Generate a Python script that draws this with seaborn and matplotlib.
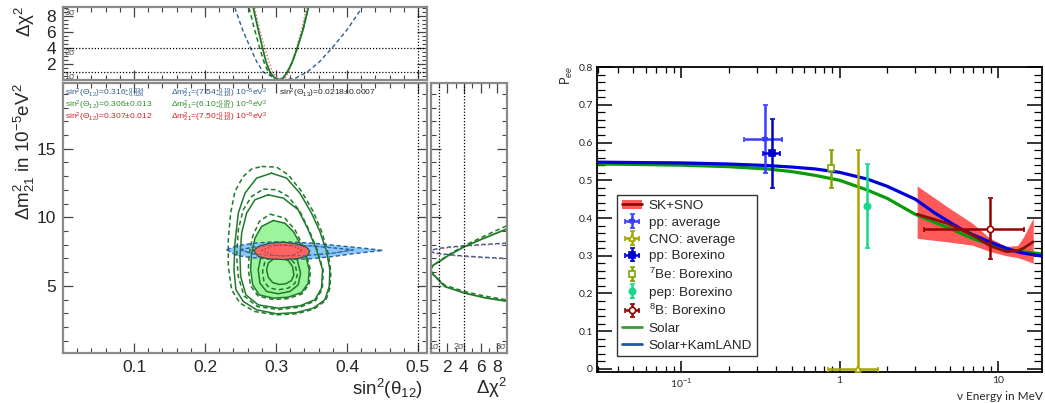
import numpy as np
import pandas as pd
import matplotlib
matplotlib.use("Agg")
import matplotlib.pyplot as plt
import seaborn as sns
from matplotlib.ticker import MultipleLocator, FixedLocator, FixedFormatter, LogLocator, NullFormatter
from matplotlib.patches import Patch
from matplotlib.lines import Line2D

# -----------------------------------
# LEFT FIGURE DATA
# -----------------------------------
sx_ticks = [0.1, 0.2, 0.3, 0.4, 0.5]
sx_tick_labels = ["0.1", "0.2", "0.3", "0.4", "0.5"]
dm_ticks = [5, 10, 15]
dm_tick_labels = ["5", "10", "15"]
chi_ticks = [2, 4, 6, 8]
chi_tick_labels = ["2", "4", "6", "8"]
sigma_levels = [1, 4, 9]
sigma_names = ["1σ", "2σ", "3σ"]

# green (solar) contours
g_out_sx = [0.2938, 0.3149, 0.3337, 0.3501, 0.3618, 0.3712, 0.3759, 0.3750, 0.3688, 0.3524,
            0.3290, 0.3008, 0.2727, 0.2539, 0.2436, 0.2408, 0.2422, 0.2469, 0.2563, 0.2727]
g_out_dm = [13.22, 12.86, 11.76, 10.30, 8.97, 7.51, 6.17, 4.95, 3.98, 3.37,
            3.05, 2.96, 3.25, 3.86, 4.71, 6.17, 8.11, 10.30, 11.76, 12.86]
g_outd_sx = [0.2797, 0.3008, 0.3172, 0.3360, 0.3524, 0.3642, 0.3735, 0.3773, 0.3759, 0.3702, 0.3534,
             0.3290, 0.3008, 0.2704, 0.2493, 0.2375, 0.2328, 0.2328, 0.2361, 0.2422, 0.2539, 0.2657]
g_outd_dm = [13.71, 13.66, 13.10, 11.89, 10.43, 8.97, 7.38, 6.05, 4.83, 3.93, 3.30,
             2.96, 2.88, 3.12, 3.74, 4.71, 6.41, 8.36, 10.30, 11.89, 12.98, 13.52]
g_mid_sx = [0.2891, 0.3102, 0.3313, 0.3454, 0.3571, 0.3656, 0.3641, 0.3548, 0.3337,
            0.3032, 0.2750, 0.2577, 0.2502, 0.2493, 0.2516, 0.2586, 0.2704]
g_mid_dm = [11.64, 11.40, 10.55, 9.09, 7.63, 6.17, 4.83, 3.98, 3.54,
            3.37, 3.61, 4.34, 5.68, 7.14, 8.84, 10.30, 11.28]
g_midd_sx = [0.2821, 0.3008, 0.3172, 0.3337, 0.3468, 0.3585, 0.3665, 0.3652, 0.3557,
             0.3337, 0.3032, 0.2736, 0.2549, 0.2469, 0.2446, 0.2469, 0.2539, 0.2657]
g_midd_dm = [12.06, 12.01, 11.52, 10.43, 9.04, 7.58, 6.12, 4.76, 3.91,
             3.44, 3.27, 3.49, 4.27, 5.68, 7.14, 9.09, 10.55, 11.52]
g_fill_sx = [0.2961, 0.3125, 0.3243, 0.3337, 0.3421, 0.3468, 0.3454, 0.3360,
             0.3172, 0.2961, 0.2764, 0.2671, 0.2642, 0.2656, 0.2704, 0.2797]
g_fill_dm = [9.77, 9.57, 8.97, 8.11, 7.14, 6.17, 5.19, 4.51,
             4.17, 4.10, 4.34, 5.07, 6.17, 7.38, 8.48, 9.33]
g_filld_sx = [0.2915, 0.3125, 0.3267, 0.3360, 0.3440, 0.3487, 0.3468, 0.3370,
              0.3172, 0.2961, 0.2750, 0.2642, 0.2610, 0.2624, 0.2671, 0.2765]
g_filld_dm = [10.23, 9.94, 9.09, 8.11, 7.09, 6.12, 5.14, 4.42,
              4.07, 4.00, 4.25, 5.00, 6.17, 7.38, 8.60, 9.70]
g_in2_sx = [0.3032, 0.3196, 0.3300, 0.3346, 0.3313, 0.3196, 0.3032, 0.2868, 0.2774, 0.2750, 0.2783, 0.2891]
g_in2_dm = [7.68, 7.51, 6.90, 5.92, 5.07, 4.59, 4.42, 4.59, 5.19, 6.17, 7.02, 7.55]
g_in2d_sx = [0.3032, 0.3172, 0.3267, 0.3300, 0.3267, 0.3172, 0.3032, 0.2905, 0.2830, 0.2811, 0.2844, 0.2915]
g_in2d_dm = [7.34, 7.14, 6.61, 5.80, 5.19, 4.83, 4.71, 4.85, 5.32, 6.05, 6.78, 7.19]
g_in1_sx = [0.3056, 0.3172, 0.3233, 0.3252, 0.3219, 0.3139, 0.3046, 0.2952, 0.2891, 0.2868, 0.2891, 0.2961]
g_in1_dm = [7.02, 6.85, 6.41, 5.80, 5.39, 5.15, 5.10, 5.24, 5.63, 6.17, 6.66, 6.95]

# blue (KamLAND) contour
b_fill_sx = [0.2305, 0.2446, 0.2680, 0.2961, 0.3243, 0.3524, 0.3806, 0.4087, 0.4322,
             0.4509, 0.4322, 0.4087, 0.3806, 0.3524, 0.3243, 0.2961, 0.2680, 0.2446]
b_fill_dm = [7.63, 7.92, 8.11, 8.21, 8.19, 8.11, 7.97, 7.82, 7.70,
             7.58, 7.48, 7.34, 7.14, 6.99, 6.92, 6.95, 7.04, 7.21]
b_in_sx = [0.2493, 0.2680, 0.2961, 0.3243, 0.3524, 0.3806, 0.4087, 0.3806, 0.3524, 0.3243, 0.2961, 0.2680]
b_in_dm = [7.63, 7.82, 7.97, 7.97, 7.90, 7.77, 7.63, 7.38, 7.26, 7.19, 7.21, 7.33]

# red (combined) contour
r_fill_sx = [0.2680, 0.2775, 0.2915, 0.3102, 0.3290, 0.3430, 0.3477, 0.3440, 0.3313, 0.3102, 0.2891, 0.2750]
r_fill_dm = [7.58, 7.92, 8.11, 8.19, 8.07, 7.82, 7.53, 7.19, 6.99, 6.92, 6.97, 7.14]
r_in_sx = [0.280, 0.295, 0.310, 0.325, 0.337, 0.325, 0.310, 0.295]
r_in_dm = [7.58, 7.90, 7.98, 7.90, 7.58, 7.25, 7.15, 7.25]

# top panel: delta chi2 profiles vs sin2(theta12)
prof_chi = [9, 6.25, 4, 2.25, 1, 0.25, 0, 0.25, 1, 2.25, 4, 6.25, 9]
prof_blue_sx = [0.242, 0.253, 0.264, 0.273, 0.282, 0.298, 0.313, 0.328, 0.344, 0.361, 0.379, 0.400, 0.421]
prof_green_sx = [0.268, 0.275, 0.281, 0.286, 0.2915, 0.298, 0.304, 0.310, 0.316, 0.323, 0.330, 0.338, 0.3455]
prof_greend_sx = [0.262, 0.270, 0.277, 0.283, 0.289, 0.297, 0.304, 0.310, 0.316, 0.323, 0.330, 0.338, 0.3455]
prof_red_sx = [0.270, 0.277, 0.2845, 0.290, 0.295, 0.301, 0.307, 0.313, 0.318, 0.323, 0.329, 0.336, 0.343]

# side panel: delta chi2 profiles vs dm21
side_chi = [9.1, 6.5, 4.1, 2.1, 1.0, 0.3, 0.0, 0.3, 1.0, 1.7, 4.1, 6.5, 9.1]
side_green_dm = [9.14, 8.50, 7.87, 7.20, 6.75, 6.50, 6.17, 5.85, 5.40, 4.95, 4.47, 4.13, 3.88]
side_greend_dm = [9.38, 8.65, 7.95, 7.25, 6.78, 6.50, 6.17, 5.82, 5.45, 5.05, 4.58, 4.25, 3.98]
side_kl_chi = [9.1, 6.25, 4, 2.25, 1, 0.25, 0, 0.25, 1, 2.25, 4, 6.25, 9.1]
side_blue_dm = [8.12, 8.02, 7.92, 7.83, 7.73, 7.635, 7.54, 7.45, 7.36, 7.27, 7.18, 7.09, 7.00]
side_red_dm = [8.07, 7.975, 7.88, 7.785, 7.69, 7.595, 7.50, 7.41, 7.32, 7.23, 7.14, 7.05, 6.96]

# -----------------------------------
# RIGHT FIGURE DATA (survival probability)
# -----------------------------------
curve_e = [0.03, 0.05, 0.1, 0.2, 0.35, 0.5, 0.7, 1.0, 1.5, 2.0, 3.0, 4.0, 5.0, 6.0, 7.0, 8.5, 10.0, 12.0, 14.0, 19.0]
solar_pee = [0.543, 0.542, 0.540, 0.536, 0.530, 0.523, 0.513, 0.500, 0.474, 0.452, 0.410, 0.388,
             0.372, 0.357, 0.345, 0.333, 0.324, 0.315, 0.311, 0.305]
kamland_pee = [0.548, 0.547, 0.546, 0.543, 0.539, 0.535, 0.530, 0.521, 0.503, 0.484, 0.450, 0.413,
               0.388, 0.368, 0.355, 0.340, 0.328, 0.316, 0.308, 0.299]
band_e = [3.09, 4.78, 6.9, 8.94, 11.3, 13.3, 14.5, 16.7]
band_hi = [0.485, 0.430, 0.386, 0.346, 0.325, 0.327, 0.350, 0.400]
band_mid = [0.410, 0.386, 0.355, 0.326, 0.311, 0.313, 0.320, 0.337]
band_lo = [0.346, 0.337, 0.328, 0.311, 0.300, 0.295, 0.290, 0.280]

# points: energy, pee, energy range, pee range
pp_avg = dict(e=0.34, p=0.61, elo=0.248, ehi=0.431, plo=0.52, phi=0.70)
cno_avg = dict(e=1.30, p=0.0, elo=0.84, ehi=1.76, plo=0.0, phi=0.58)
pp_bx = dict(e=0.376, p=0.572, elo=0.327, ehi=0.424, plo=0.48, phi=0.662)
be7_bx = dict(e=0.88, p=0.532, plo=0.48, phi=0.58)
pep_bx = dict(e=1.50, p=0.432, plo=0.32, phi=0.543)
b8_bx = dict(e=8.9, p=0.371, elo=3.4, ehi=14.7, plo=0.291, phi=0.452)

pee_ticks = [0, 0.1, 0.2, 0.3, 0.4, 0.5, 0.6, 0.7, 0.8]
pee_tick_labels = ["0", "0.1", "0.2", "0.3", "0.4", "0.5", "0.6", "0.7", "0.8"]
e_ticks = [0.1, 1, 10]
e_tick_labels = ["10$^{-1}$", "1", "10"]
legend_labels = ["SK+SNO", "pp: average", "CNO: average", "pp: Borexino", "$^{7}$Be: Borexino",
                 "pep: Borexino", "$^{8}$B: Borexino", "Solar", "Solar+KamLAND"]

# -----------------------------------
# STYLE
# -----------------------------------
sns.set_theme(style="ticks")
plt.rcParams['font.family'] = ['Liberation Sans', 'DejaVu Sans']
plt.rcParams['mathtext.fontset'] = 'custom'
plt.rcParams['mathtext.rm'] = 'Liberation Sans'
plt.rcParams['mathtext.it'] = 'Liberation Sans:italic'
plt.rcParams['mathtext.bf'] = 'Liberation Sans:bold'

GREEN_LINE = '#1f7a2a'
GREEN_FILL = '#9cf59c'
BLUE_LINE = '#2d5f8f'
BLUE_FILL = '#8cc6ff'
RED_LINE = '#e06a6a'
RED_FILL = '#ff6464'
DASH = (0, (3, 2))
DOT = (0, (1, 1.5))

fig = plt.figure(figsize=(10.45, 4.03), dpi=100)
ax_top = fig.add_axes([0.0603, 0.8015, 0.3483, 0.1811])
ax_main = fig.add_axes([0.0603, 0.1241, 0.3483, 0.6700])
ax_side = fig.add_axes([0.4120, 0.1241, 0.0727, 0.6700])
ax_pee = fig.add_axes([0.5713, 0.0769, 0.4258, 0.7568])


def root_style(ax):
    for s in ax.spines.values():
        s.set_color('#8a8a8a')
        s.set_linewidth(1.6)
    ax.tick_params(which='both', direction='in', top=True, right=True,
                   color='#444444', labelsize=12.5, pad=5)
    ax.tick_params(which='major', length=7, width=0.9)
    ax.tick_params(which='minor', length=3.5, width=0.8)


def closed(a):
    return list(a) + [a[0]]


# -----------------------------------
# MAIN CONTOUR PANEL
# -----------------------------------
ax = ax_main
ax.fill(g_fill_sx, g_fill_dm, color=GREEN_FILL, lw=0, zorder=1)
ax.fill(b_fill_sx, b_fill_dm, color=BLUE_FILL, lw=0, zorder=2)

green_lines = [(g_out_sx, g_out_dm, '-'), (g_outd_sx, g_outd_dm, DASH),
               (g_mid_sx, g_mid_dm, '-'), (g_midd_sx, g_midd_dm, DASH),
               (g_fill_sx, g_fill_dm, '-'), (g_filld_sx, g_filld_dm, DASH),
               (g_in2_sx, g_in2_dm, '-'), (g_in2d_sx, g_in2d_dm, DASH),
               (g_in1_sx, g_in1_dm, '-')]
for xs, ys, ls in green_lines:
    ax.plot(closed(xs), closed(ys), color=GREEN_LINE, lw=1.1, ls=ls, zorder=3)

ax.plot(closed(b_fill_sx), closed(b_fill_dm), color=BLUE_LINE, lw=1.0, ls=DASH, zorder=4)
ax.plot(closed(b_in_sx), closed(b_in_dm), color=BLUE_LINE, lw=0.9, ls=DASH, zorder=4)
ax.fill(r_fill_sx, r_fill_dm, color=RED_FILL, lw=0, zorder=5)
ax.plot(closed(r_fill_sx), closed(r_fill_dm), color='#2f5f3f', lw=1.0, zorder=6)
ax.plot(closed(r_in_sx), closed(r_in_dm), color='#b03030', lw=0.9, ls=DOT, zorder=6)
ax.plot(closed(b_in_sx), closed(b_in_dm), color=BLUE_LINE, lw=0.8, ls=DASH, zorder=6, alpha=0.6)

ax.axvline(0.5, color='black', lw=0.9, ls=DOT)
ax.set_xlim(0, 0.5127)
ax.set_ylim(0.1, 19.8)
root_style(ax)
ax.xaxis.set_major_locator(FixedLocator(sx_ticks))
ax.xaxis.set_major_formatter(FixedFormatter(sx_tick_labels))
ax.xaxis.set_minor_locator(MultipleLocator(0.02))
ax.yaxis.set_major_locator(FixedLocator(dm_ticks))
ax.yaxis.set_major_formatter(FixedFormatter(dm_tick_labels))
ax.yaxis.set_minor_locator(MultipleLocator(1))

# fit results
ann_rows = [
    (BLUE_LINE, "sin$^2$(Θ$_{12}$)=$0.316^{+0.034}_{-0.026}$", "Δm$^2_{21}$=($7.54^{+0.19}_{-0.18}$) 10$^{-5}$eV$^2$"),
    ('#2e8b2e', "sin$^2$(Θ$_{12}$)=0.306±0.013", "Δm$^2_{21}$=($6.10^{+0.95}_{-0.81}$) 10$^{-5}$eV$^2$"),
    ('#cc2222', "sin$^2$(Θ$_{12}$)=0.307±0.012", "Δm$^2_{21}$=($7.50^{+0.19}_{-0.18}$) 10$^{-5}$eV$^2$"),
]
for i, (c, t1, t2) in enumerate(ann_rows):
    yy = 1 - (93.5 + 11.8 * i) / 403
    fig.text(65 / 1045, yy, t1, color=c, fontsize=6.1, va='center')
    fig.text(171 / 1045, yy, t2, color=c, fontsize=6.1, va='center')
fig.text(279 / 1045, 1 - 93.5 / 403, "sin$^2$(Θ$_{13}$)=0.0218±0.0007", color='#222222',
         fontsize=6.1, va='center')

# -----------------------------------
# TOP PANEL
# -----------------------------------
ax = ax_top
sns.lineplot(x=prof_blue_sx, y=prof_chi, ax=ax, color=BLUE_LINE, lw=1.0, linestyle=DASH,
             sort=False, estimator=None)
sns.lineplot(x=prof_red_sx, y=prof_chi, ax=ax, color=RED_LINE, lw=1.0, linestyle=DOT,
             sort=False, estimator=None)
sns.lineplot(x=prof_greend_sx, y=prof_chi, ax=ax, color=GREEN_LINE, lw=1.1, linestyle=DASH,
             sort=False, estimator=None)
sns.lineplot(x=prof_green_sx, y=prof_chi, ax=ax, color=GREEN_LINE, lw=1.3,
             sort=False, estimator=None)
for lev in sigma_levels[:2]:
    ax.axhline(lev, color='black', lw=0.9, ls=DOT)
ax.axvline(0.5, color='black', lw=0.9, ls=DOT)
for lev, name in zip(sigma_levels, sigma_names):
    ax.text(0.002, min(lev, 9.0), name, color='#555555', fontsize=6.5, va='top', ha='left')
ax.set_xlim(0, 0.5127)
ax.set_ylim(0, 9.1)
root_style(ax)
ax.xaxis.set_major_locator(FixedLocator(sx_ticks))
ax.xaxis.set_minor_locator(MultipleLocator(0.02))
ax.tick_params(labelbottom=False)
ax.yaxis.set_major_locator(FixedLocator(chi_ticks))
ax.yaxis.set_major_formatter(FixedFormatter(chi_tick_labels))
ax.yaxis.set_minor_locator(MultipleLocator(0.5))

# -----------------------------------
# SIDE PANEL
# -----------------------------------
ax = ax_side
sns.lineplot(x=side_kl_chi, y=side_red_dm, ax=ax, color=RED_LINE, lw=1.0, linestyle=DOT,
             sort=False, estimator=None)
sns.lineplot(x=side_kl_chi, y=side_blue_dm, ax=ax, color=BLUE_LINE, lw=1.0, linestyle=DASH,
             sort=False, estimator=None)
sns.lineplot(x=side_chi, y=side_greend_dm, ax=ax, color=GREEN_LINE, lw=1.1, linestyle=DASH,
             sort=False, estimator=None)
sns.lineplot(x=side_chi, y=side_green_dm, ax=ax, color=GREEN_LINE, lw=1.3,
             sort=False, estimator=None)
for lev in sigma_levels[:2]:
    ax.axvline(lev, color='black', lw=0.9, ls=DOT)
for lev, name in zip(sigma_levels, sigma_names):
    ax.text(min(lev, 9.05), 0.25, name, color='#555555', fontsize=6.5, va='bottom', ha='right')
ax.set_xlim(0, 9.1)
ax.set_ylim(0.1, 19.8)
root_style(ax)
ax.xaxis.set_major_locator(FixedLocator(chi_ticks))
ax.xaxis.set_major_formatter(FixedFormatter(chi_tick_labels))
ax.xaxis.set_minor_locator(MultipleLocator(1))
ax.yaxis.set_major_locator(FixedLocator(dm_ticks))
ax.yaxis.set_minor_locator(MultipleLocator(1))
ax.tick_params(labelleft=False)

# left axis titles
fig.text(423 / 1045, 1 - 389 / 403, "sin$^2$(θ$_{12}$)", fontsize=13.5, ha='right', va='center')
fig.text(507 / 1045, 1 - 388 / 403, "Δχ$^2$", fontsize=13.5, ha='right', va='center')
fig.text(24 / 1045, 1 - 83 / 403, "Δm$^2_{21}$ in 10$^{-5}$eV$^2$", fontsize=13.5,
         rotation=90, ha='center', va='top')
fig.text(25 / 1045, 1 - 6 / 403, "Δχ$^2$", fontsize=13.5, rotation=90, ha='center', va='top')

# -----------------------------------
# SURVIVAL PROBABILITY PANEL
# -----------------------------------
ax = ax_pee
RFONT = ['Lato', 'DejaVu Sans']
ax.set_xscale('log')
curves = pd.DataFrame({'E': curve_e, 'solar': solar_pee, 'kamland': kamland_pee})

ax.fill_between(band_e, band_lo, band_hi, color='#ff5a5a', lw=0, zorder=1)
sns.lineplot(data=curves, x='E', y='solar', ax=ax, color='#0a9a0a', lw=2.3, zorder=2)
sns.lineplot(data=curves, x='E', y='kamland', ax=ax, color='#0000dd', lw=2.3, zorder=3)
ax.plot(band_e, band_mid, color='#8e0c0c', lw=2.0, zorder=4)


def pt(d, fmt, color, mfc, ms, label):
    xerr = None
    if 'elo' in d:
        xerr = [[d['e'] - d['elo']], [d['ehi'] - d['e']]]
    yerr = [[d['p'] - d['plo']], [d['phi'] - d['p']]]
    return ax.errorbar([d['e']], [d['p']], xerr=xerr, yerr=yerr, fmt=fmt, color=color,
                       mfc=mfc, mec=color, ms=ms, elinewidth=1.8, capsize=1.8,
                       capthick=1.4, mew=1.2, label=label, zorder=6, clip_on=True)


h_ppa = pt(pp_avg, '*', '#3c3cff', '#3c3cff', 4, legend_labels[1])
h_cno = pt(cno_avg, '^', '#a6a600', 'white', 4.5, legend_labels[2])
h_ppb = pt(pp_bx, 's', '#0000cc', '#0000cc', 5, legend_labels[3])
h_be7 = pt(be7_bx, 's', '#7ea400', 'white', 4.5, legend_labels[4])
h_pep = pt(pep_bx, 'o', '#14d88a', '#14d88a', 4.5, legend_labels[5])
h_b8 = pt(b8_bx, 'o', '#990000', 'white', 4.5, legend_labels[6])

band_handle = (Patch(facecolor='#ff5a5a', edgecolor='none'),
               Line2D([], [], color='#8e0c0c', lw=2.0))
h_sol = Line2D([], [], color='#3a9a3a', lw=2.0)
h_kl = Line2D([], [], color='#2255aa', lw=2.0)
leg = ax.legend([band_handle, h_ppa, h_cno, h_ppb, h_be7, h_pep, h_b8, h_sol, h_kl],
                legend_labels, loc='upper left', bbox_to_anchor=(617 / 1045, 1 - 195 / 403),
                bbox_transform=fig.transFigure, frameon=True, fancybox=False,
                borderaxespad=0, handlelength=1.5, handletextpad=0.5,
                labelspacing=0.32, borderpad=0.35,
                prop={'family': 'Liberation Sans', 'size': 9.7})
leg.get_frame().set_edgecolor('#333333')
leg.get_frame().set_linewidth(1.0)
leg.get_frame().set_alpha(1)

ax.set_xlim(0.0295, 18.95)
ax.set_ylim(-0.008, 0.8)
ax.set_xlabel("")
ax.set_ylabel("")
for s in ax.spines.values():
    s.set_color('black')
    s.set_linewidth(1.3)
ax.tick_params(which='both', direction='in', top=True, right=True, color='black',
               labelsize=7.5, pad=3)
ax.tick_params(axis='y', which='major', length=11, width=1.1)
ax.tick_params(axis='y', which='minor', length=5.5, width=0.9)
ax.tick_params(axis='x', which='major', length=8, width=1.1)
ax.tick_params(axis='x', which='minor', length=4, width=0.9)
ax.yaxis.set_major_locator(FixedLocator(pee_ticks))
ax.yaxis.set_major_formatter(FixedFormatter(pee_tick_labels))
ax.yaxis.set_minor_locator(MultipleLocator(0.02))
ax.xaxis.set_major_locator(FixedLocator(e_ticks))
ax.xaxis.set_major_formatter(FixedFormatter(e_tick_labels))
ax.xaxis.set_minor_locator(LogLocator(base=10, subs=np.arange(2, 10)))
ax.xaxis.set_minor_formatter(NullFormatter())
for lab in ax.get_xticklabels() + ax.get_yticklabels():
    lab.set_family(RFONT)

fig.text(567 / 1045, 1 - 66 / 403, "P$_{ee}$", fontsize=9, rotation=90, ha='center', va='top',
         family=RFONT)
fig.text(1043 / 1045, 1 - 397 / 403, "ν Energy in MeV", fontsize=8.5, ha='right', va='center',
         family=RFONT)

fig.savefig("out.png", dpi=100)
